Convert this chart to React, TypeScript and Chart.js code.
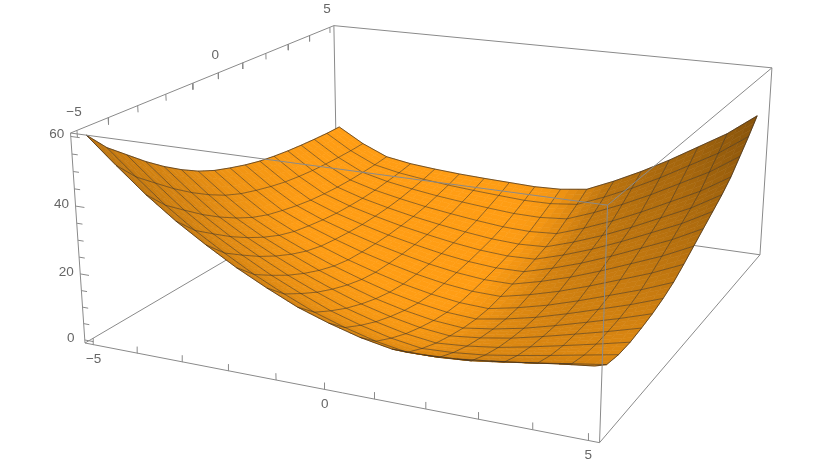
import React, { useEffect, useRef } from "react";
import { Chart, registerables } from "chart.js";
Chart.register(...registerables);

const gridAxis = [-5,-4.375,-3.75,-3.125,-2.5,-1.875,-1.25,-0.625,0,0.625,1.25,1.875,2.5,3.125,3.75,4.375,5];
const e0 = [60,52.5,45.3,39,33.5,28.4,24,20,17,14.5,12.8,12.8,13.3,14.4,15.6,16.9,18];
const e1 = [25.5,20.5,16.8,15.4,14.6,14,13.6,13.3,13,13.3,14.5,18.5,23,28,33.5,39,45.9];
const c0 = [60,54,49.5,45,41,37.5,34.5,32.2,30.5,29,27.8,27,26.4,26,25.7,25.5,25.5];
const c1 = [18,14.8,14,14,14.6,15.4,16.6,18.2,20.5,23,25.5,28,30.5,33.5,37.5,41.5,45.9];
const HEIGHTS = gridAxis.map((_, j) => gridAxis.map((_, i) => {
  const s = i / 16, t = j / 16;
  const v = (1-t)*e0[i] + t*e1[i] + (1-s)*c0[j] + s*c1[j]
    - ((1-s)*(1-t)*60 + s*(1-t)*18 + (1-s)*t*25.5 + s*t*45.9);
  return v;
}));

const xTicks = [-5,-4,-3,-2,-1,0,1,2,3,4,5];
const zTicks = [0,5,10,15,20,25,30,35,40,45,50,55,60];
const R = 5.2, ZMIN = -0.93, ZR = 61.9;
const CAM = [[437.8,341.3,-17.3,85],[43,-96.3,-215.3,343],[-0.128,0.265,-0.04,1]];
function proj(x:number,y:number,z:number){
  const u=(x+R)/(2*R), v=(y+R)/(2*R), w=(z-ZMIN)/ZR;
  const d=CAM[2][0]*u+CAM[2][1]*v+CAM[2][2]*w+1;
  return {x:(CAM[0][0]*u+CAM[0][1]*v+CAM[0][2]*w+85)/d, y:(CAM[1][0]*u+CAM[1][1]*v+CAM[1][2]*w+343)/d, d};
}
const BOX = {x0:-R,x1:R,y0:-R,y1:R,z0:ZMIN,z1:ZMIN+ZR};
function slopes(i:number,j:number){
  const a=Math.max(i-1,0),b=Math.min(i+1,16),c=Math.max(j-1,0),d=Math.min(j+1,16);
  return [(HEIGHTS[j][b]-HEIGHTS[j][a])/((b-a)*0.625),(HEIGHTS[d][i]-HEIGHTS[c][i])/((d-c)*0.625)];
}
function shade(i:number,j:number){
  const [sx,sy]=slopes(i,j);
  const a=0.067*sx,b=0.067*sy,n=Math.hypot(a,b,1);
  const t=Math.min(1,-0.23+1.2/n+0.38*(-a/n)-0.19*(-b/n));
  return t;
}
const line=(pts:any[],color:string,width:number,order:number)=>({data:pts,showLine:true,borderColor:color,borderWidth:width,pointRadius:0,fill:false,order,tension:0});
function buildDatasets(){
  const out:any[]=[];
  const edge=(a:number[],b:number[],order:number)=>out.push(line([proj(a[0],a[1],a[2]),proj(b[0],b[1],b[2])],"#8a8a8a",1,order));
  const {x0,x1,y0,y1,z0,z1}=BOX;
  // back edges, under the surface
  edge([x0,y0,z0],[x0,y1,z0],5000);edge([x0,y1,z0],[x1,y1,z0],5000);edge([x0,y1,z0],[x0,y1,z1],5000);
  edge([x1,y1,z0],[x1,y1,z1],5000);edge([x0,y1,z1],[x1,y1,z1],5000);edge([x0,y0,z1],[x0,y1,z1],5000);
  edge([x0,y0,z0],[x1,y0,z0],5000);edge([x0,y0,z0],[x0,y0,z1],5000);edge([x1,y0,z0],[x1,y1,z0],5000);
  // cells far to near
  const cells:any[]=[];
  const SUB=3;
  for(let j=0;j<16;j++)for(let i=0;i<16;i++){
    const z=[HEIGHTS[j][i],HEIGHTS[j][i+1],HEIGHTS[j+1][i],HEIGHTS[j+1][i+1]];
    const t=[shade(i,j),shade(i+1,j),shade(i,j+1),shade(i+1,j+1)];
    const dx=gridAxis[i+1]-gridAxis[i],dy=gridAxis[j+1]-gridAxis[j];
    for(let q=0;q<SUB;q++)for(let p=0;p<SUB;p++){
      const at=(pp:number,qq:number)=>{const s=pp/SUB,r=qq/SUB;
        return proj(gridAxis[i]+s*dx,gridAxis[j]+r*dy,(1-s)*(1-r)*z[0]+s*(1-r)*z[1]+(1-s)*r*z[2]+s*r*z[3]);};
      const s=(p+.5)/SUB,r=(q+.5)/SUB;
      const tt=(1-s)*(1-r)*t[0]+s*(1-r)*t[1]+(1-s)*r*t[2]+s*r*t[3];
      const col=`rgb(${Math.round(255*tt)},${Math.round(157*tt)},${Math.round(20*tt)})`;
      const P=[at(p,q),at(p+1,q),at(p+1,q+1),at(p,q+1)];
      cells.push({dep:P[0].d,P,col});
    }
  }
  cells.sort((a,b)=>b.dep-a.dep);
  cells.forEach((c,k)=>out.push({data:[...c.P,c.P[0]],showLine:true,fill:"shape",backgroundColor:c.col,borderColor:c.col,borderWidth:0.6,pointRadius:0,tension:0,order:4000-k/4}));
  const meshCol="rgba(60,50,40,0.62)";
  for(let k=1;k<16;k++){
    out.push(line(gridAxis.map((x,i)=>proj(x,gridAxis[k],HEIGHTS[k][i])),meshCol,0.9,20));
    out.push(line(gridAxis.map((y,j)=>proj(gridAxis[k],y,HEIGHTS[j][k])),meshCol,0.9,20));
  }
  const bCol="rgba(60,45,30,0.8)";
  out.push(line(gridAxis.map((x,i)=>proj(x,-5,HEIGHTS[0][i])),bCol,0.9,19));
  out.push(line(gridAxis.map((x,i)=>proj(x,5,HEIGHTS[16][i])),bCol,0.9,19));
  out.push(line(gridAxis.map((y,j)=>proj(-5,y,HEIGHTS[j][0])),bCol,0.9,19));
  out.push(line(gridAxis.map((y,j)=>proj(5,y,HEIGHTS[j][16])),bCol,0.9,19));
  // front edges over the surface
  edge([x0,y0,z1],[x1,y0,z1],10);edge([x1,y0,z0],[x1,y0,z1],10);edge([x1,y0,z1],[x1,y1,z1],10);
  // ticks
  xTicks.forEach(t=>{
    out.push(line([proj(t,y0,z0),proj(t,y0,z0+2)],"#8a8a8a",1,10));
    out.push(line([proj(x0,t,z1),proj(x0,t,z1-2)],"#8a8a8a",1,10));
  });
  zTicks.forEach(t=>{
    const L=t%20===0?0.2:0.13;
    out.push(line([proj(x0,y0,t),proj(x0+L,y0,t)],"#8a8a8a",1,10));
  });
  return out;
}
const labelPlugin={id:"labels",afterDatasetsDraw(chart:any){
  const c=chart.ctx,sx=chart.scales.x,sy=chart.scales.y;
  c.save();c.font='13.5px "Liberation Sans"';c.fillStyle="#666";c.textAlign="center";c.textBaseline="middle";
  const put=(s:string,p:{x:number,y:number},dx:number,dy:number)=>c.fillText(s,sx.getPixelForValue(p.x)+dx,sy.getPixelForValue(p.y)+dy);
  [[-5,"\u22125"],[0,"0"],[5,"5"]].forEach(([t,s]:any)=>{
    put(s,proj(t,BOX.y0,BOX.z0),0,15);
    put(s,proj(BOX.x0,t,BOX.z1),-3,-18);
  });
  [[0,"0"],[20,"20"],[40,"40"],[60,"60"]].forEach(([t,s]:any)=>{put(s,proj(BOX.x0,BOX.y0,t),-14,-2);});
  c.restore();
}};
export default function App(){
  const ref=useRef<HTMLCanvasElement>(null);
  useEffect(()=>{
    const chart=new Chart(ref.current!,{type:"scatter",data:{datasets:buildDatasets()},plugins:[labelPlugin],options:{
      animation:false,responsive:false,events:[],
      layout:{padding:0},
      plugins:{legend:{display:false},tooltip:{enabled:false}},
      scales:{x:{type:"linear",min:0,max:822,display:false},y:{type:"linear",min:0,max:469,reverse:true,display:false}},
    }} as any);
    return ()=>chart.destroy();
  },[]);
  return <div style={{position:"absolute",left:0,top:0,width:822,height:469,background:"#fff"}}><canvas ref={ref} width={822} height={469} style={{display:"block"}}/></div>;
}
